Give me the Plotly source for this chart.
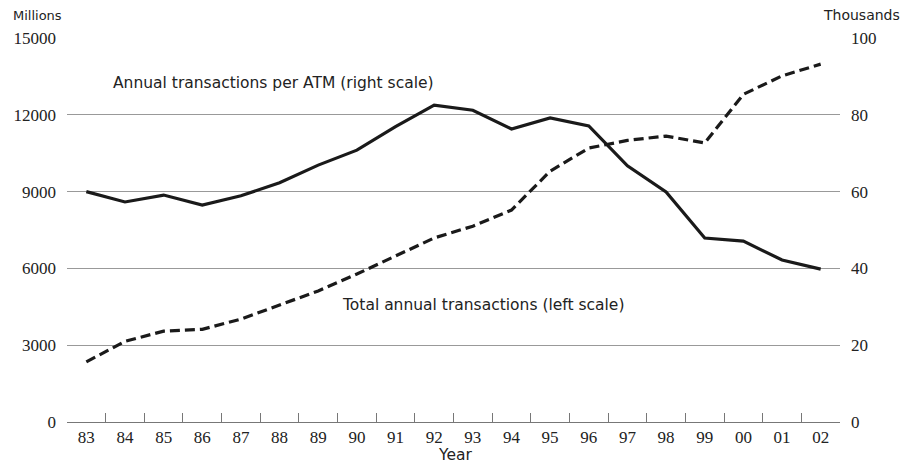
import plotly.graph_objects as go

# --------------------------------------------------
# DATA
# --------------------------------------------------
years = ["83", "84", "85", "86", "87", "88", "89", "90", "91", "92",
         "93", "94", "95", "96", "97", "98", "99", "00", "01", "02"]

# total annual transactions, millions (left scale)
total_tx = [2350, 3150, 3550, 3620, 4020, 4570, 5120, 5780, 6480, 7190,
            7650, 8280, 9800, 10700, 11000, 11170, 10900, 12800, 13520, 13980]

# annual transactions per ATM, thousands (right scale)
per_atm = [60.0, 57.3, 59.1, 56.5, 58.9, 62.3, 66.9, 70.8, 76.9, 82.5,
           81.2, 76.3, 79.2, 77.1, 66.7, 59.9, 47.9, 47.1, 42.2, 39.8]

left_ticks = [0, 3000, 6000, 9000, 12000, 15000]
right_ticks = [0, 20, 40, 60, 80, 100]

serif = "'Liberation Serif', 'Times New Roman', serif"
sans = "DejaVu Sans"
ink = "#222222"

# page has an 8px body margin, so the figure sits at (8, 8)
W, H = 900, 458
ML, MR, MT, MB = 59, 68, 30, 44
PW, PH = W - ML - MR, H - MT - MB


def px(sx, sy):
    # screen pixel -> paper coords
    return (sx - 8 - ML) / PW, 1 - (sy - 8 - MT) / PH


fig = go.Figure()

fig.add_trace(go.Scatter(
    x=years, y=total_tx, mode="lines",
    line=dict(color="#1a1a1a", width=3.2, dash="10px,5px"),
    yaxis="y", showlegend=False
))

fig.add_trace(go.Scatter(
    x=years, y=per_atm, mode="lines",
    line=dict(color="#1a1a1a", width=3.2),
    yaxis="y2", showlegend=False
))

fig.update_layout(
    width=W, height=H,
    margin=dict(l=ML, r=MR, t=MT, b=MB, autoexpand=False),
    paper_bgcolor="white", plot_bgcolor="white",
    xaxis=dict(
        type="category", tickson="boundaries",
        ticks="inside", ticklen=9, tickcolor="#777", tickwidth=1,
        showline=True, linecolor="#777", linewidth=1,
        showgrid=False, zeroline=False, automargin=False,
        tickfont=dict(family=serif, size=17, color=ink),
        range=[-0.5, 19.5],
    ),
    yaxis=dict(
        range=[0, 15000], tickvals=left_ticks,
        ticktext=[str(v) for v in left_ticks],
        showgrid=True, gridcolor="#999", gridwidth=1,
        zeroline=False, showline=False, ticks="", automargin=False,
        tickfont=dict(family=serif, size=17, color=ink),
        ticklabelstandoff=10,
    ),
    yaxis2=dict(
        range=[0, 100], tickvals=right_ticks,
        ticktext=[str(v) for v in right_ticks],
        overlaying="y", side="right", automargin=False,
        showgrid=False, zeroline=False, showline=False, ticks="",
        tickfont=dict(family=serif, size=17, color=ink),
        ticklabelstandoff=10,
    ),
)

notes = [
    ("Millions", 11, 15, "left", 13),
    ("Thousands", 902, 15, "right", 14),
    ("Year", 455, 455, "center", 15.5),
    ("Annual transactions per ATM (right scale)", 111, 83, "left", 15.5),
    ("Total annual transactions (left scale)", 340, 305, "left", 15.5),
]
for text, sx, sy, anchor, size in notes:
    ax, ay = px(sx, sy)
    fig.add_annotation(
        text=text, xref="paper", yref="paper",
        x=ax, y=ay, xanchor=anchor, yanchor="middle",
        showarrow=False, font=dict(family=sans, size=size, color=ink)
    )

fig.write_html("out.html")
